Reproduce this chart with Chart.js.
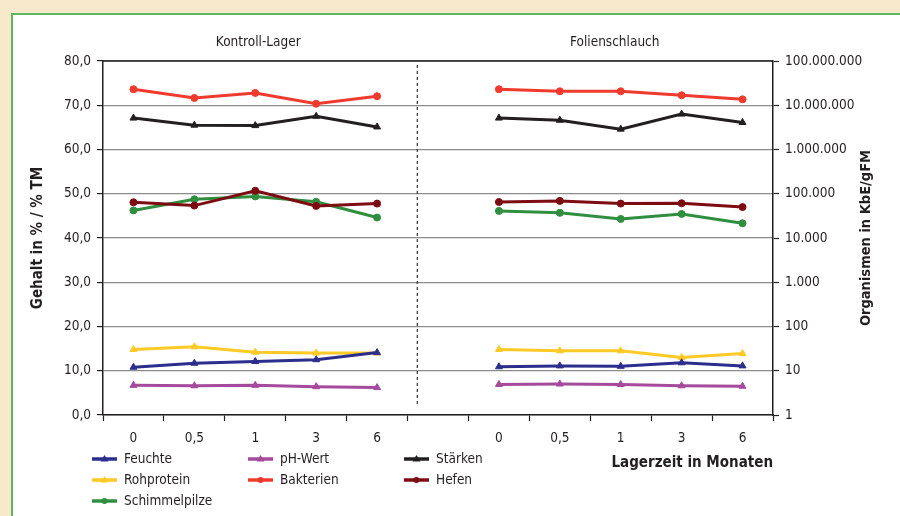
<!DOCTYPE html>
<html lang="de">
<head>
<meta charset="UTF-8">
<title>Kontroll-Lager / Folienschlauch</title>
<script src="https://cdn.jsdelivr.net/npm/chart.js"></script>
<style>
  html, body { margin: 0; padding: 0; }
  body { width: 900px; height: 516px; background: #f8e9cd; position: relative; overflow: hidden; }
  #frame { position: absolute; left: 11px; top: 13px; width: 900px; height: 520px; background: #fff; border: 2px solid #5cb85c; }
  #wrap { position: absolute; left: 0; top: 0; width: 900px; height: 516px; }
</style>
</head>
<body>
<div id="frame"></div>
<div id="wrap"><canvas id="myChart"></canvas></div>

<script>
const FONT = "'Liberation Sans Narrow', 'DejaVu Sans Condensed', 'Arial Narrow', sans-serif";
const TXT = '#231f20';

// Zeitpunkte je Lagervariante, dazwischen eine leere Kategorie
const monate = ['0', '0,5', '1', '3', '6'];
const labels = [...monate, '', ...monate];
const gruppen = ['Kontroll-Lager', 'Folienschlauch'];

// Gehalt in % bzw. % TM (linke Achse)
const feuchte    = [10.8, 11.7, 12.1, 12.5, 14.1, null, 10.9, 11.1, 11.0, 11.8, 11.1];
const rohprotein = [14.8, 15.4, 14.2, 14.0, 14.0, null, 14.8, 14.5, 14.5, 13.0, 13.9];
const phWert     = [6.7, 6.6, 6.7, 6.4, 6.2, null, 6.9, 7.0, 6.9, 6.6, 6.5];
const staerken   = [67.1, 65.5, 65.4, 67.5, 65.1, null, 67.1, 66.6, 64.6, 68.0, 66.1];

// Organismen in KbE/gFM (rechte Achse, logarithmisch)
const bakterien     = [2.3e7, 1.46e7, 1.9e7, 1.08e7, 1.6e7, null, 2.3e7, 2.07e7, 2.07e7, 1.68e7, 1.36e7];
const hefen         = [64000, 54000, 117000, 53000, 60000, null, 65000, 69000, 60000, 61000, 50000];
const schimmelpilze = [42000, 75000, 87000, 66000, 29000, null, 41000, 37000, 27000, 35000, 21500];

// Achsenbeschriftung rechts
const logTicks = [1, 10, 100, 1e3, 1e4, 1e5, 1e6, 1e7, 1e8];

function serie(label, data, color, style, axis) {
    return {
        label, data, yAxisID: axis,
        borderColor: color, backgroundColor: color,
        borderWidth: 3, tension: 0,
        pointStyle: style, pointRadius: style === 'triangle' ? 4 : 3.5,
        pointBorderWidth: 1, spanGaps: false
    };
}

const datasets = [
    serie('Feuchte', feuchte, '#2b2e8c', 'triangle', 'y'),
    serie('pH-Wert', phWert, '#a54a9c', 'triangle', 'y'),
    serie('Stärken', staerken, '#231f20', 'triangle', 'y'),
    serie('Rohprotein', rohprotein, '#ffc926', 'triangle', 'y'),
    serie('Bakterien', bakterien, '#ef3a2d', 'circle', 'y2'),
    serie('Hefen', hefen, '#7d0c12', 'circle', 'y2'),
    serie('Schimmelpilze', schimmelpilze, '#2f8f3f', 'circle', 'y2')
];

const punkte = v => String(v).replace(/\B(?=(\d{3})+(?!\d))/g, '.');

// Rahmen, Trennlinie, Gruppentitel, rechter Achsentitel und Legende
const extras = {
    id: 'extras',
    afterDraw(chart) {
        const {ctx, chartArea: {top, bottom, left, right}} = chart;
        const x = chart.scales.x;
        ctx.save();

        ctx.strokeStyle = TXT;
        ctx.lineWidth = 1.5;
        ctx.beginPath();
        ctx.moveTo(left, top);
        ctx.lineTo(right, top);
        ctx.stroke();

        // gestrichelte Trennlinie zwischen den Varianten
        const p4 = x.getPixelForValue(4), p5 = x.getPixelForValue(5);
        const xd = p4 + (p5 - p4) * 0.66;
        ctx.setLineDash([3, 3]);
        ctx.lineWidth = 1.2;
        ctx.strokeStyle = '#333';
        ctx.beginPath();
        ctx.moveTo(xd, top + 4);
        ctx.lineTo(xd, bottom - 10);
        ctx.stroke();
        ctx.setLineDash([]);

        ctx.fillStyle = TXT;
        ctx.font = '13.5px ' + FONT;
        ctx.textAlign = 'center';
        ctx.textBaseline = 'middle';
        ctx.fillText(gruppen[0], (x.getPixelForValue(0) + x.getPixelForValue(4)) / 2 + 3, 42);
        ctx.fillText(gruppen[1], (x.getPixelForValue(6) + x.getPixelForValue(10)) / 2 - 6, 42);

        ctx.save();
        ctx.translate(866, (top + bottom) / 2);
        ctx.rotate(-Math.PI / 2);
        ctx.font = 'bold 14.5px ' + FONT;
        ctx.fillText('Organismen in KbE/gFM', 0, 0);
        ctx.restore();

        // Legende in drei Spalten
        const spalten = [92, 248, 404], zeilen = [459, 480, 501];
        chart.data.datasets.forEach((ds, i) => {
            const lx = spalten[i % 3], ly = zeilen[Math.floor(i / 3)];
            ctx.strokeStyle = ds.borderColor;
            ctx.lineWidth = 3.5;
            ctx.beginPath();
            ctx.moveTo(lx, ly);
            ctx.lineTo(lx + 25, ly);
            ctx.stroke();
            ctx.fillStyle = ds.borderColor;
            ctx.beginPath();
            if (ds.pointStyle === 'triangle') {
                ctx.moveTo(lx + 12.5, ly - 4);
                ctx.lineTo(lx + 16.5, ly + 2.5);
                ctx.lineTo(lx + 8.5, ly + 2.5);
                ctx.closePath();
            } else {
                ctx.arc(lx + 12.5, ly, 3, 0, Math.PI * 2);
            }
            ctx.fill();
            ctx.fillStyle = TXT;
            ctx.font = '13.5px ' + FONT;
            ctx.textAlign = 'left';
            ctx.fillText(ds.label, lx + 32, ly);
        });
        ctx.restore();
    }
};

const tickFont = { family: FONT, size: 13.5 };

const config = {
    type: 'line',
    data: { labels, datasets },
    options: {
        responsive: true,
        maintainAspectRatio: false,
        animation: false,
        layout: { padding: { top: 61, left: 0, right: 0, bottom: 0 } },
        plugins: {
            legend: { display: false },
            tooltip: { enabled: false }
        },
        scales: {
            x: {
                type: 'category',
                offset: true,
                grid: { offset: true, drawOnChartArea: false, drawTicks: true, tickLength: 6, tickColor: TXT, tickWidth: 1.2 },
                border: { color: TXT, width: 1.5 },
                ticks: { color: TXT, font: tickFont, padding: 9, autoSkip: false, maxRotation: 0 },
                title: {
                    display: true, text: 'Lagerzeit in Monaten', align: 'end', color: TXT,
                    font: { family: FONT, size: 15, weight: 'bold' },
                    padding: { top: 0, bottom: 44 }
                },
                afterFit(scale) { scale.height = 101; }
            },
            y: {
                position: 'left',
                min: 0, max: 80,
                ticks: {
                    stepSize: 10, color: TXT, font: tickFont, padding: 6,
                    callback: v => v.toFixed(1).replace('.', ',')
                },
                grid: { color: '#8c8c8c', lineWidth: 1.2, tickLength: 6, tickColor: TXT, tickWidth: 1.2 },
                border: { color: TXT, width: 1.5 },
                title: {
                    display: true, text: 'Gehalt in % / % TM', color: TXT,
                    font: { family: FONT, size: 15, weight: 'bold' },
                    padding: { top: 29, bottom: 0 }
                },
                afterFit(scale) { scale.width = 103; }
            },
            y2: {
                type: 'logarithmic',
                position: 'right',
                min: 1, max: 1e8,
                afterBuildTicks(scale) { scale.ticks = logTicks.map(v => ({ value: v, major: true })); },
                ticks: { color: TXT, font: tickFont, padding: 6, callback: v => punkte(v) },
                grid: { drawOnChartArea: false, tickLength: 6, tickColor: TXT, tickWidth: 1.2 },
                border: { color: TXT, width: 1.5 },
                afterFit(scale) { scale.width = 127; }
            }
        }
    },
    plugins: [extras]
};

new Chart(document.getElementById('myChart').getContext('2d'), config);
</script>
</body>
</html>
